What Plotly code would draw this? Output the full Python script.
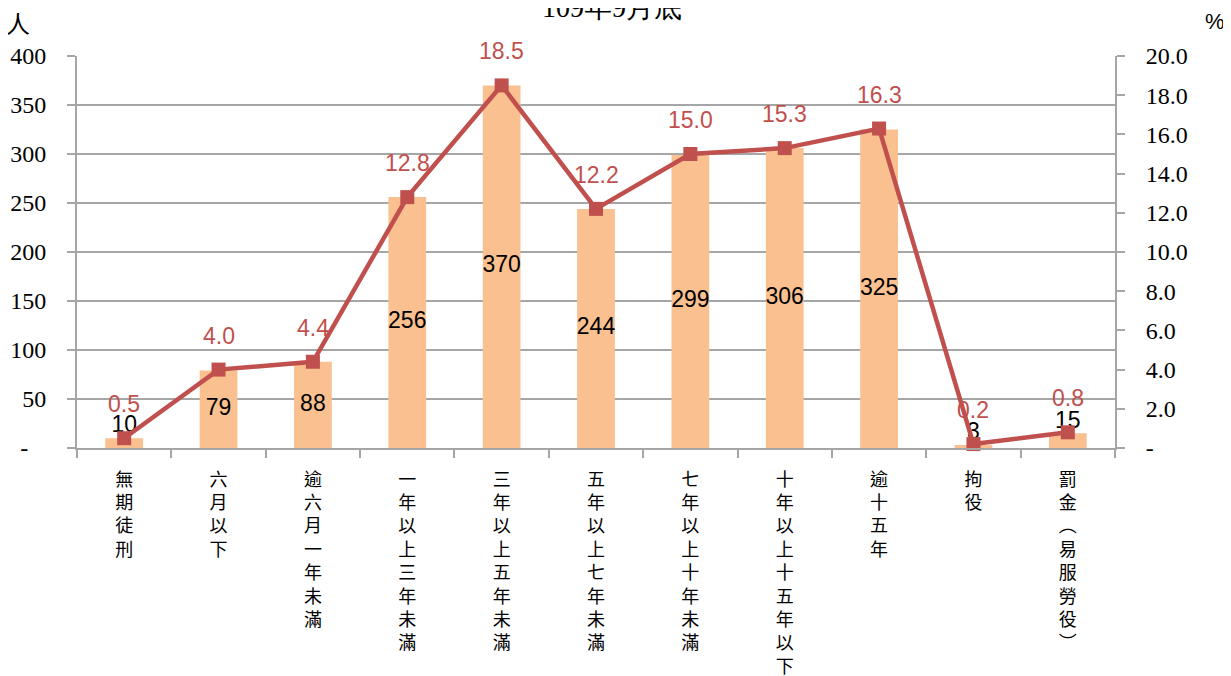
import plotly.graph_objects as go

categories = ["無期徒刑", "六月以下", "逾六月一年未滿", "一年以上三年未滿", "三年以上五年未滿",
              "五年以上七年未滿", "七年以上十年未滿", "十年以上十五年以下", "逾十五年", "拘役",
              "罰金︵易服勞役︶"]
persons = [10, 79, 88, 256, 370, 244, 299, 306, 325, 3, 15]
percents = [0.5, 4.0, 4.4, 12.8, 18.5, 12.2, 15.0, 15.3, 16.3, 0.2, 0.8]
left_ticks = [0, 50, 100, 150, 200, 250, 300, 350, 400]
right_ticks = [0, 2, 4, 6, 8, 10, 12, 14, 16, 18, 20]
title_text = "109年9月底"

tick_text_x = ["<br>".join(list(c)) for c in categories]
left_ticktext = ["-\u00a0\u00a0\u00a0" if v == 0 else str(v) for v in left_ticks]
right_ticktext = ["-" if v == 0 else f"{v:.1f}" for v in right_ticks]

BAR = "#FAC090"
RED = "#C0504D"
GRID = "#A6A6A6"
SERIF = "Liberation Serif"
SANS = "Liberation Sans"
CJK = "Noto Sans CJK TC"

fig = go.Figure()
fig.add_trace(go.Bar(x=categories, y=persons, marker=dict(color=BAR, line=dict(width=0)),
                     width=0.4, hoverinfo="skip"))

# bar value labels (centre of bar, above for very small bars)
lab_y = [v / 2 if v >= 30 else v for v in persons]
lab_pos = ["middle center" if v >= 30 else "top center" for v in persons]
fig.add_trace(go.Scatter(x=categories, y=lab_y, mode="text", text=[str(v) for v in persons],
                         textposition=lab_pos, textfont=dict(family=SANS, size=23, color="black"),
                         hoverinfo="skip", cliponaxis=False))

fig.add_trace(go.Scatter(x=categories, y=percents, yaxis="y2", mode="lines+markers",
                         line=dict(color=RED, width=4.5),
                         marker=dict(symbol="square", size=14, color=RED),
                         hoverinfo="skip", cliponaxis=False))

annotations = []
for c, p in zip(categories, percents):
    annotations.append(dict(x=c, y=p, xref="x", yref="y2", text=f"{p:.1f}", showarrow=False,
                            yshift=34, font=dict(family=SANS, size=23, color=RED)))
annotations.append(dict(x=0.515, y=1.079, xref="paper", yref="paper", text=title_text,
                        showarrow=False, yanchor="bottom", xanchor="center",
                        font=dict(family=SERIF, size=28, color="black")))
annotations.append(dict(x=-0.057, y=1.085, xref="paper", yref="paper", text="人",
                        showarrow=False, xanchor="center", yanchor="middle",
                        font=dict(family=CJK, size=24, color="black")))
annotations.append(dict(x=1.096, y=1.087, xref="paper", yref="paper", text="%",
                        showarrow=False, xanchor="center", yanchor="middle",
                        font=dict(family=SANS, size=22, color="black")))

fig.update_layout(
    width=1223, height=668,
    margin=dict(l=69, r=116, t=48, b=228),
    paper_bgcolor="white", plot_bgcolor="white",
    showlegend=False,
    annotations=annotations,
    xaxis=dict(type="category", tickson="boundaries", ticks="outside", ticklen=8,
               tickcolor=GRID, tickwidth=2, showgrid=False, showline=True, linecolor=GRID,
               linewidth=2, tickmode="array", tickvals=categories, ticktext=tick_text_x,
               tickfont=dict(family=CJK, size=18, color="black"),
               tickangle=0, automargin=False, range=[-0.5, 10.5], fixedrange=True,
               ticklabelstandoff=14),
    yaxis=dict(range=[0, 400], tickmode="array", tickvals=left_ticks, ticktext=left_ticktext,
               showgrid=True, gridcolor=GRID, gridwidth=2, zeroline=False,
               showline=True, linecolor=GRID, linewidth=2, ticks="outside", ticklen=8,
               tickcolor=GRID, tickwidth=2,
               tickfont=dict(family=SERIF, size=24, color="black"), automargin=False,
               ticklabelstandoff=16),
    yaxis2=dict(range=[0, 20], overlaying="y", side="right", tickmode="array",
                tickvals=right_ticks, ticktext=right_ticktext, showgrid=False, zeroline=False,
                showline=True, linecolor=GRID, linewidth=2, ticks="outside", ticklen=8,
                tickcolor=GRID, tickwidth=2,
                tickfont=dict(family=SERIF, size=24, color="black"), automargin=False,
                ticklabelstandoff=16),
)

fig.write_html("out.html")
